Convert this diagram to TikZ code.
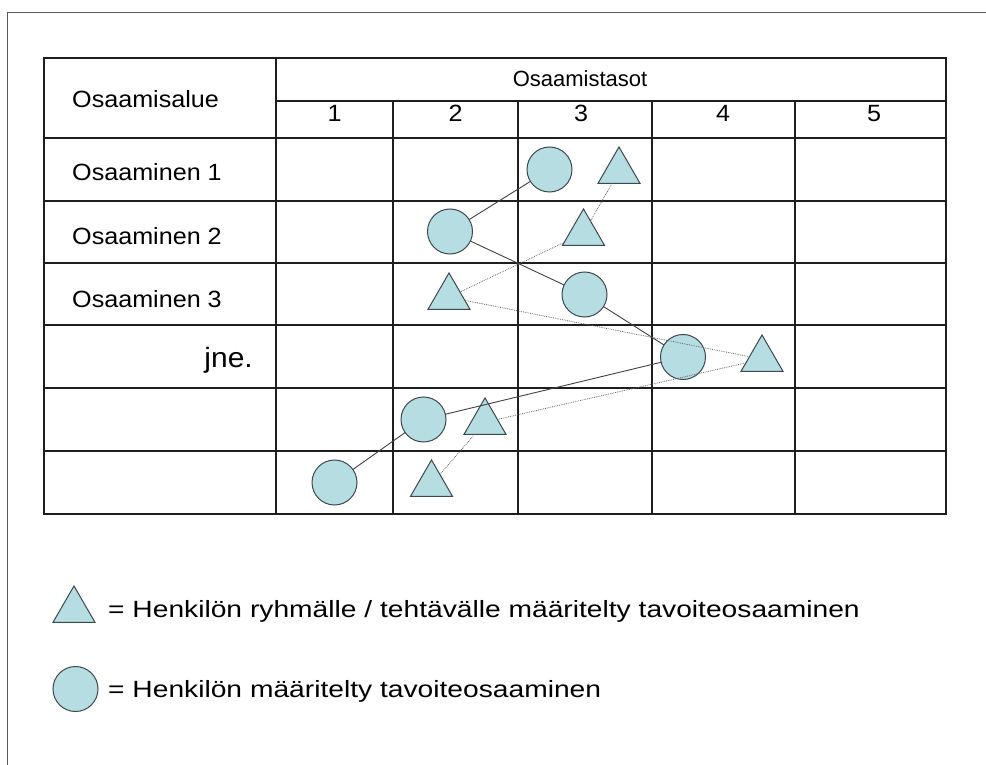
\documentclass[tikz,border=0pt]{standalone}
\usepackage{fontspec}
\setmainfont{Liberation Sans}
\newfontfamily\tabfont[FakeStretch=1.07]{Liberation Sans}
\newfontfamily\legfont[FakeStretch=1.2]{Liberation Sans}
\usetikzlibrary{shapes.geometric}

\definecolor{shapefill}{RGB}{182,221,226}
\definecolor{shapeline}{RGB}{60,72,78}
\definecolor{gridline}{RGB}{30,30,30}
\definecolor{frameline}{RGB}{90,90,90}

\tikzset{
  level/.style={circle, draw=shapeline, fill=shapefill, line width=1pt,
    minimum size=45pt, inner sep=0pt, outer sep=0pt},
  target/.style={regular polygon, regular polygon sides=3, draw=shapeline,
    fill=shapefill, line width=1pt, minimum size=48.5pt, inner sep=0pt, outer sep=0pt},
  levellink/.style={draw=black!75, line width=0.9pt},
  targetlink/.style={draw=black!60, line width=0.8pt, densely dotted},
  grid/.style={draw=gridline, line width=1.1pt},
  celltext/.style={inner sep=0pt, font=\tabfont\fontsize{23.5}{28}\selectfont},
  legtext/.style={inner sep=0pt, font=\legfont\fontsize{23.5}{28}\selectfont},
}

\begin{document}
\begin{tikzpicture}[x=1pt, y=-1pt]
\useasboundingbox (0,0) rectangle (986,765);

% slide frame
\draw[frameline, line width=1.2pt] (7.5,765) -- (7.5,12.7) -- (986,12.7);

% table grid
\draw[grid] (44,58) rectangle (946,514);
\draw[grid] (276,58) -- (276,514);
\draw[grid] (276,101) -- (946,101);
\foreach \y in {138,201,263,325,388,451} \draw[grid] (44,\y) -- (946,\y);
\foreach \x in {393,518,652,795} \draw[grid] (\x,101) -- (\x,514);

% header texts
\node[celltext, anchor=base west] (area) at (72,108) {Osaamisalue};
\node[celltext, anchor=base, font=\rmfamily\fontsize{22}{26}\selectfont] (levels) at (580,87) {Osaamistasot};
\node[celltext, anchor=base] (l1) at (334.5,122) {1};
\node[celltext, anchor=base] (l2) at (455.5,122) {2};
\node[celltext, anchor=base] (l3) at (581,122) {3};
\node[celltext, anchor=base] (l4) at (723,122) {4};
\node[celltext, anchor=base] (l5) at (874,122) {5};

% row labels
\node[celltext, anchor=base west] (r1) at (72,181) {Osaaminen 1};
\node[celltext, anchor=base west] (r2) at (72,244) {Osaaminen 2};
\node[celltext, anchor=base west] (r3) at (72,307) {Osaaminen 3};
\node[celltext, anchor=base east, font=\tabfont\fontsize{28}{32}\selectfont] (r4) at (253,367) {jne.};

% personal target levels (circles)
\node[level] (c1) at (549.5,169.5) {};
\node[level] (c2) at (450,231.5) {};
\node[level] (c3) at (584.5,294.5) {};
\node[level] (c4) at (683,357) {};
\node[level] (c5) at (423.5,419.5) {};
\node[level] (c6) at (334.5,482.5) {};

% group / task target levels (triangles)
\node[target] (t1) at (619,171.2) {};
\node[target] (t2) at (583.5,233.2) {};
\node[target] (t3) at (449,297.2) {};
\node[target] (t4) at (762,359.2) {};
\node[target] (t5) at (485,422.2) {};
\node[target] (t6) at (431.5,484.2) {};

% profiles
\draw[levellink] (c1) -- (c2);
\draw[levellink] (c2) -- (c3);
\draw[levellink] (c3) -- (c4);
\draw[levellink] (c4) -- (c5);
\draw[levellink] (c5) -- (c6);

\draw[targetlink] (t1) -- (t2);
\draw[targetlink] (t2) -- (t3);
\draw[targetlink] (t3) -- (t4);
\draw[targetlink] (t4) -- (t5);
\draw[targetlink] (t5) -- (t6);

% legend
\node[target] (legt) at (74,610.2) {};
\node[legtext, anchor=base west] (legttext) at (108,617) {= Henkilön ryhmälle / tehtävälle määritelty tavoiteosaaminen};
\node[level] (legc) at (75.5,689) {};
\node[legtext, anchor=base west] (legctext) at (108,697) {= Henkilön määritelty tavoiteosaaminen};
\end{tikzpicture}
\end{document}
